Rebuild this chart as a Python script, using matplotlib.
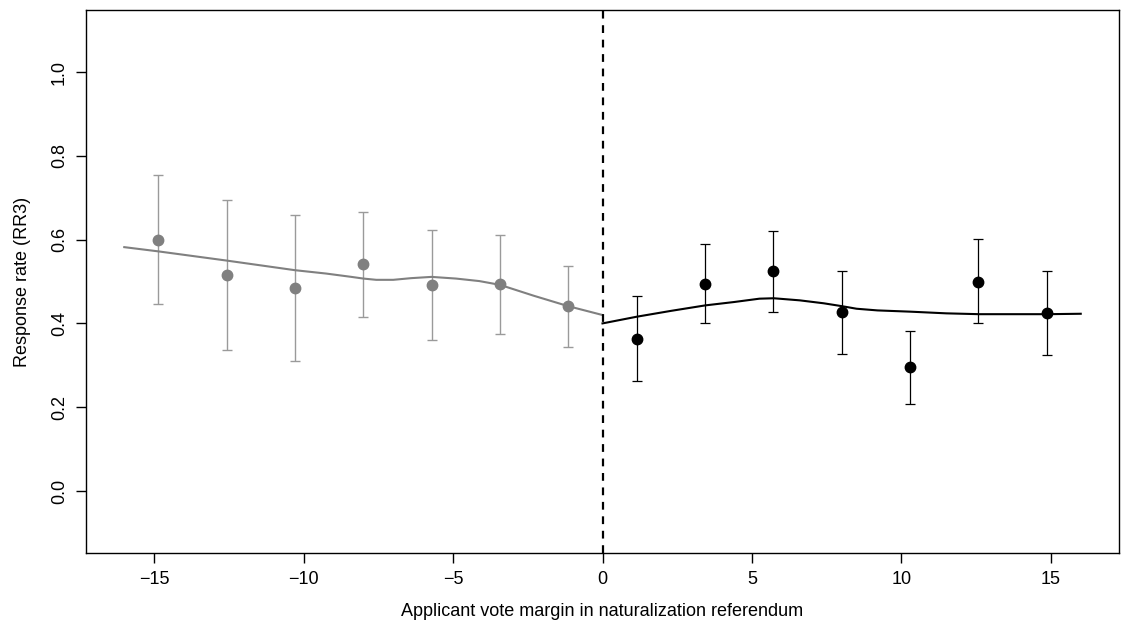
import numpy as np
import matplotlib
matplotlib.use("Agg")
import matplotlib.pyplot as plt

plt.rcParams['font.family'] = ['Liberation Sans', 'DejaVu Sans']

# binned means, left of cutoff (rejected applicants)
left_x = [-14.86, -12.57, -10.29, -8.0, -5.71, -3.43, -1.14]
left_mean = [0.600, 0.516, 0.485, 0.541, 0.491, 0.493, 0.442]
left_lo = [0.446, 0.337, 0.311, 0.415, 0.360, 0.374, 0.344]
left_hi = [0.755, 0.695, 0.658, 0.667, 0.622, 0.611, 0.537]

# binned means, right of cutoff (naturalized applicants)
right_x = [1.14, 3.43, 5.71, 8.0, 10.29, 12.57, 14.86]
right_mean = [0.363, 0.495, 0.525, 0.427, 0.295, 0.500, 0.425]
right_lo = [0.263, 0.402, 0.428, 0.327, 0.207, 0.400, 0.325]
right_hi = [0.465, 0.589, 0.621, 0.526, 0.383, 0.601, 0.526]

# smoothed fits
fit_left_x = [-16.0, -14.87, -12.58, -10.29, -9.25, -8.4, -8.0, -7.57, -7.0,
              -6.4, -5.72, -4.9, -4.12, -3.43, -2.3, -1.14, 0.0]
fit_left_y = [0.582, 0.572, 0.550, 0.527, 0.519, 0.511, 0.507, 0.504, 0.504,
              0.508, 0.511, 0.507, 0.501, 0.492, 0.466, 0.441, 0.420]
fit_right_x = [0.0, 1.15, 2.3, 3.44, 4.4, 5.25, 5.73, 6.6, 7.4, 8.02, 8.5,
               9.2, 10.3, 11.5, 12.6, 14.88, 16.0]
fit_right_y = [0.400, 0.416, 0.430, 0.443, 0.451, 0.459, 0.460, 0.455, 0.448,
               0.441, 0.435, 0.431, 0.428, 0.424, 0.422, 0.422, 0.423]

fig = plt.figure(figsize=(11.22, 6.31), dpi=100)
ax = fig.add_axes([86 / 1122, 1 - 553 / 631, (1119 - 86) / 1122, (553 - 10) / 631])

gray = '#808080'
ax.plot(fit_left_x, fit_left_y, color=gray, lw=1.5, zorder=2)
ax.plot(fit_right_x, fit_right_y, color='black', lw=1.5, zorder=2)

lm = np.array(left_mean)
ax.errorbar(left_x, lm, yerr=[lm - np.array(left_lo), np.array(left_hi) - lm],
            fmt='none', ecolor='#9a9a9a', elinewidth=1.0, capsize=3.6, capthick=1.0, zorder=1)
ax.plot(left_x, left_mean, 'o', color=gray, ms=7.5, zorder=3)

rm = np.array(right_mean)
ax.errorbar(right_x, rm, yerr=[rm - np.array(right_lo), np.array(right_hi) - rm],
            fmt='none', ecolor='black', elinewidth=0.9, capsize=3.6, capthick=0.9, zorder=1)
ax.plot(right_x, right_mean, 'o', color='black', ms=7.5, zorder=3)

ax.axvline(0, color='black', lw=1.6, ls=(0, (3.5, 3)), zorder=4)

ax.set_xlim(-16 * 1.08, 16 * 1.08)
ax.set_ylim(-0.1 - 0.048, 1.1 + 0.048)
ax.set_xticks([-15, -10, -5, 0, 5, 10, 15])
ax.set_xticklabels(['\u221215', '\u221210', '\u22125', '0', '5', '10', '15'])
ax.set_yticks([0.0, 0.2, 0.4, 0.6, 0.8, 1.0])
ax.set_yticklabels(['0.0', '0.2', '0.4', '0.6', '0.8', '1.0'], rotation=90, va='center')
ax.tick_params(direction='out', length=7, width=1, labelsize=13, pad=6)
for s in ax.spines.values():
    s.set_linewidth(1)

ax.set_xlabel('Applicant vote margin in naturalization referendum', fontsize=13, labelpad=11)
ax.set_ylabel('Response rate (RR3)', fontsize=13, labelpad=14)

fig.savefig('out.png', dpi=100)
